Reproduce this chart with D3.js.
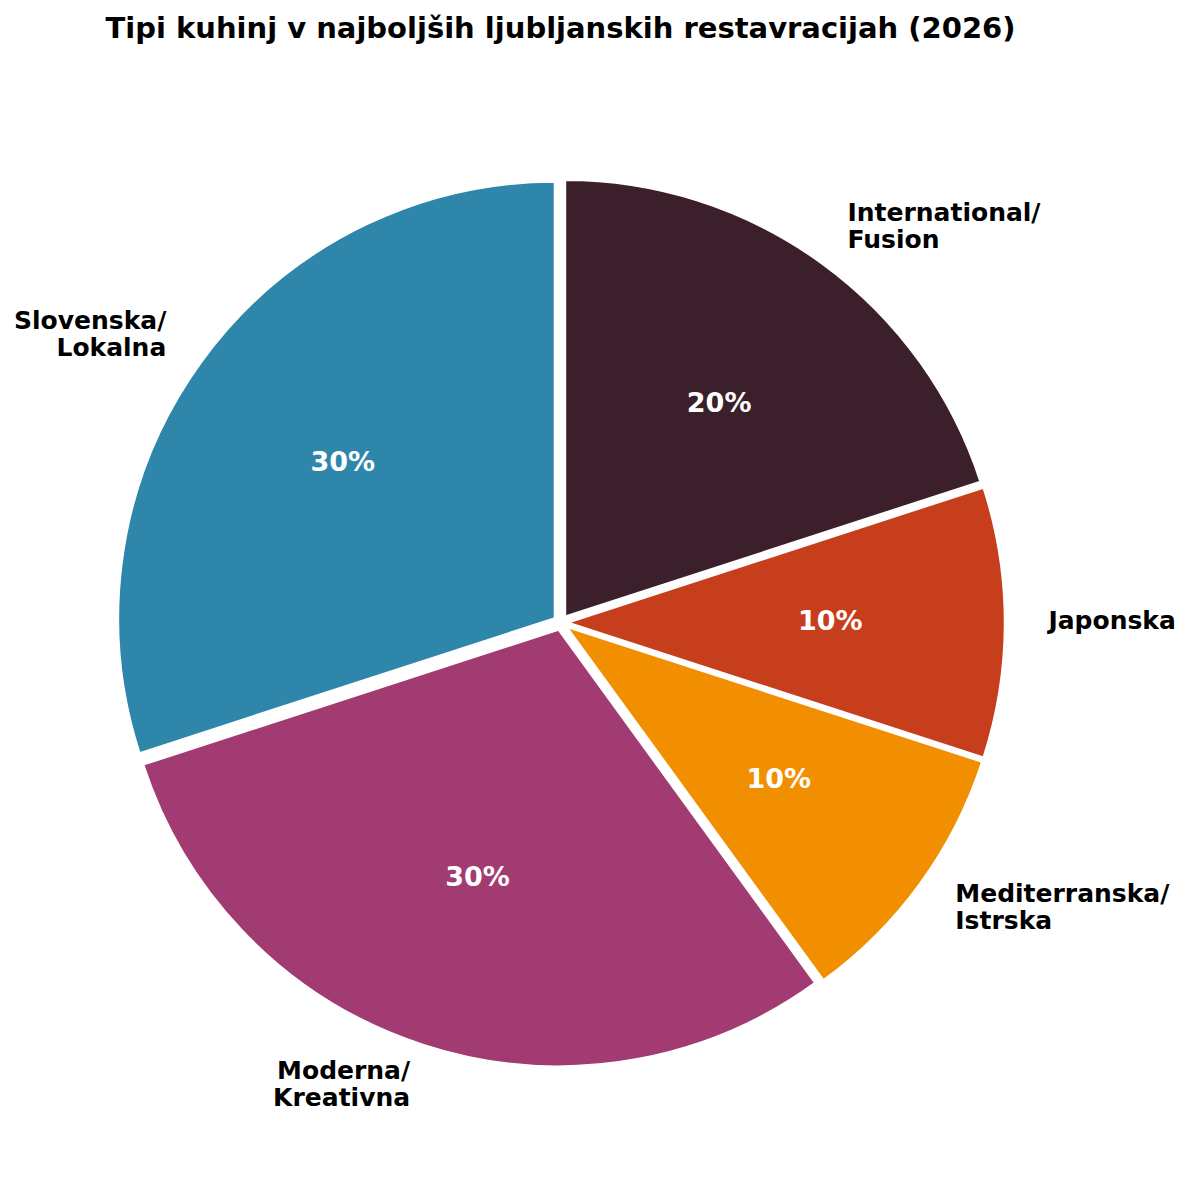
<!DOCTYPE html>
<html>
<head>
<meta charset="utf-8">
<script src="https://cdn.jsdelivr.net/npm/d3@7"></script>
<style>
  html, body { margin: 0; padding: 0; background: #ffffff; }
  svg { display: block; }
  text { font-family: "DejaVu Sans", sans-serif; font-weight: bold; }
</style>
</head>
<body>
<svg id="chart" width="1189" height="1180"></svg>
<script>
const title = "Tipi kuhinj v najboljših ljubljanskih restavracijah (2026)";
const categories = ["Slovenska/\nLokalna", "Moderna/\nKreativna", "Mediterranska/\nIstrska", "Japonska", "International/\nFusion"];
const values = [30, 30, 10, 10, 20];
const colors = ["#2E86AB", "#A23B72", "#F18F01", "#C73E1D", "#3B1F2B"];

const W = 1189, H = 1180;
const cx = 560.8, cy = 622.6, R = 436.5;
const explode = 7.5;
const labelFont = 25, pctFont = 27, titleFont = 29;
const lineGap = 27;

const svg = d3.select("#chart");

svg.append("text")
  .attr("x", 560.5).attr("y", 38)
  .attr("text-anchor", "middle")
  .attr("font-size", titleFont)
  .attr("fill", "#000")
  .text(title);

const data = categories.map((c, i) => ({ cat: c, val: values[i], color: colors[i] }));
const total = d3.sum(values);

const pie = d3.pie().value(d => d.val).sort(null).startAngle(0).endAngle(-2 * Math.PI);
const arcs = pie(data);
const arc = d3.arc().innerRadius(0).outerRadius(R);

const g = svg.append("g").attr("transform", `translate(${cx},${cy})`);

arcs.forEach(a => {
  const mid = (a.startAngle + a.endAngle) / 2;
  const dx = Math.sin(mid), dy = -Math.cos(mid);
  const ox = dx * explode, oy = dy * explode;
  const wg = g.append("g").attr("transform", `translate(${ox},${oy})`);
  wg.append("path")
    .attr("d", arc(a))
    .attr("fill", a.data.color)
    .attr("stroke", "#ffffff")
    .attr("stroke-width", 2)
    .attr("stroke-linejoin", "round");

  // percentage label
  const pr = 0.6 * R;
  const pct = a.data.val / total * 100;
  wg.append("text")
    .attr("x", dx * pr).attr("y", dy * pr + 0.26 * pctFont)
    .attr("text-anchor", "middle")
    .attr("font-size", pctFont)
    .attr("fill", "#ffffff")
    .text(Math.round(pct) + "%");

  // category label
  const lr = 1.1 * R;
  const lx = dx * lr, ly = dy * lr;
  const lines = a.data.cat.split("\n");
  const anchor = dx > 1e-9 || Math.abs(dx) < 1e-9 ? "start" : "end";
  const t = wg.append("text")
    .attr("text-anchor", anchor)
    .attr("font-size", labelFont)
    .attr("fill", "#000");
  const y0 = ly - (lines.length - 1) * lineGap / 2 + 0.26 * labelFont;
  lines.forEach((ln, k) => {
    t.append("tspan").attr("x", lx).attr("y", y0 + k * lineGap).text(ln);
  });
});
</script>
</body>
</html>
